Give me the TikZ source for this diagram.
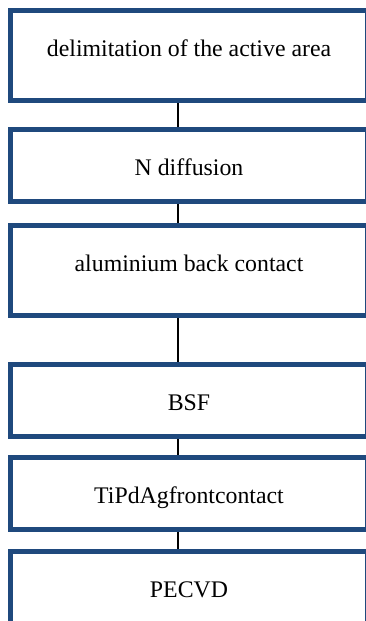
\documentclass[tikz,border=0pt]{standalone}
\usepackage{fontspec}
\setmainfont{Liberation Serif}
\definecolor{stepblue}{RGB}{31,73,125}
\begin{document}
\begin{tikzpicture}[x=1pt,y=-1pt,
stepbox/.style={draw=stepblue,line width=5pt,inner sep=0pt,minimum width=357pt,
  text height=46pt,text depth=26pt,font=\fontsize{23.8}{28}\selectfont,anchor=north},
tallbox/.style={stepbox,text depth=44pt},
link/.style={draw=black,line width=1.4pt}]
\useasboundingbox (0,0) rectangle (366,621);
\coordinate (spine) at (178,0);
\node[tallbox] (area) at (189,8) {delimitation of the active area};
\node[stepbox] (ndiff) at (189,127) {N diffusion};
\node[tallbox] (alback) at (189,223) {aluminium back contact};
\node[stepbox] (bsf) at (189,362) {BSF};
\node[stepbox] (front) at (189,455) {TiPdAgfrontcontact};
\node[stepbox] (pecvd) at (189,549) {PECVD};
\draw[link] (area.south -| spine) -- (ndiff.north -| spine)
(ndiff.south -| spine) -- (alback.north -| spine)
(alback.south -| spine) -- (bsf.north -| spine)
(bsf.south -| spine) -- (front.north -| spine)
(front.south -| spine) -- (pecvd.north -| spine);
\end{tikzpicture}
\end{document}
